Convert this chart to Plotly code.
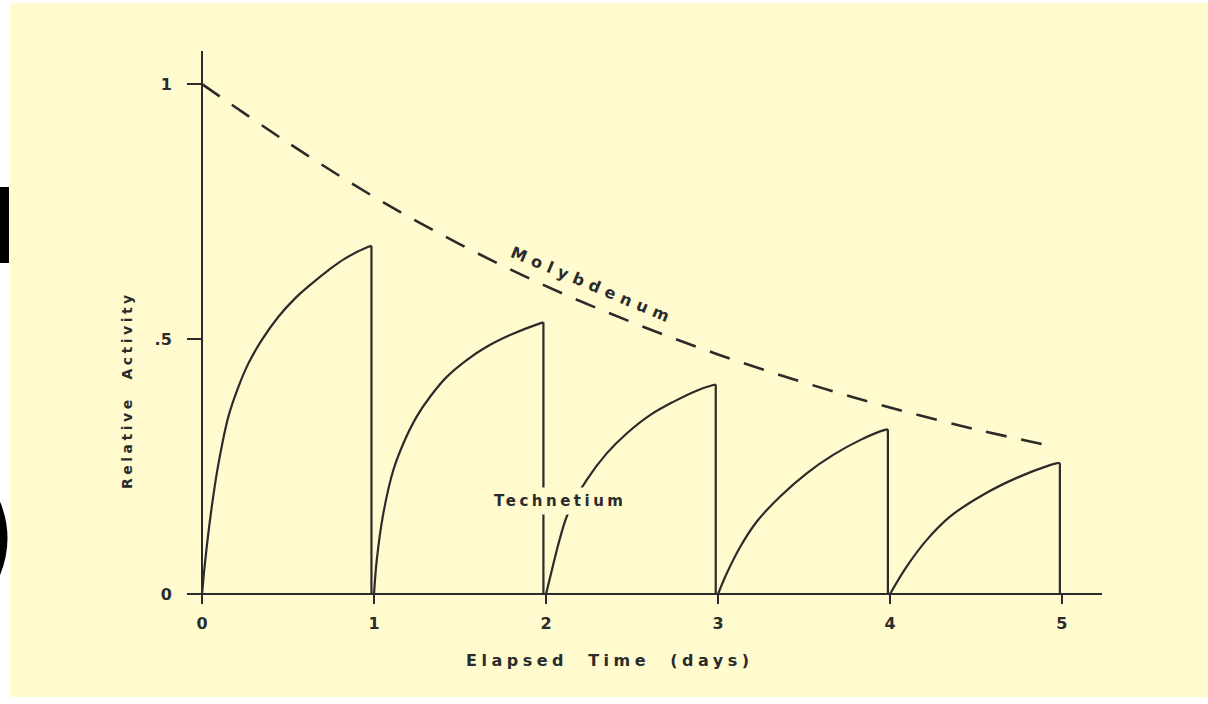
import plotly.graph_objects as go

# ---------------- data ----------------
# Molybdenum (parent) relative activity, dashed curve
mo_t = [0.0, 0.5, 1.0, 1.5, 2.0, 2.5, 3.0, 3.5, 4.0, 4.5, 4.96]
mo_v = [1.0, 0.885, 0.779, 0.686, 0.604, 0.533, 0.470, 0.415, 0.366, 0.323, 0.289]

# Technetium (daughter) growth after each daily elution
day1_t = [0.0, 0.017, 0.056, 0.095, 0.153, 0.211, 0.269, 0.347, 0.444, 0.541, 0.638, 0.734, 0.831, 0.967, 0.985]
day1_v = [0.0, 0.061, 0.170, 0.255, 0.348, 0.406, 0.452, 0.498, 0.544, 0.580, 0.609, 0.635, 0.658, 0.681, 0.683]

day2_t = [1.0, 1.016, 1.054, 1.112, 1.170, 1.248, 1.326, 1.423, 1.539, 1.655, 1.791, 1.965, 1.985]
day2_v = [0.0, 0.067, 0.158, 0.243, 0.295, 0.348, 0.387, 0.426, 0.459, 0.485, 0.508, 0.531, 0.533]

day3_t = [2.0, 2.040, 2.080, 2.130, 2.237, 2.353, 2.469, 2.605, 2.740, 2.876, 2.973, 2.987]
day3_v = [0.0, 0.055, 0.108, 0.160, 0.224, 0.276, 0.315, 0.351, 0.377, 0.399, 0.410, 0.411]

day4_t = [3.0, 3.050, 3.128, 3.225, 3.360, 3.516, 3.670, 3.826, 3.971, 3.988]
day4_v = [0.0, 0.040, 0.092, 0.142, 0.191, 0.237, 0.273, 0.302, 0.322, 0.323]

day5_t = [4.0, 4.097, 4.213, 4.349, 4.542, 4.737, 4.930, 4.973, 4.988]
day5_v = [0.0, 0.054, 0.106, 0.152, 0.195, 0.228, 0.253, 0.257, 0.257]

x_tick_vals = [0, 1, 2, 3, 4, 5]
x_tick_text = ["0", "1", "2", "3", "4", "5"]
y_tick_vals = [0, 0.5, 1]
y_tick_text = ["0", ".5", "1"]

x_title = "Elapsed  Time  (days)"
y_title = "Relative  Activity"
mo_label = "Molybdenum"
tc_label = "Technetium"

# ---------------- styling ----------------
W, H = 1208, 704
ML, MR, MT, MB = 190, 106, 51, 100
PW = W - ML - MR
PH = H - MT - MB
X_RANGE = [-0.07, 5.233]
Y_RANGE = [-0.0193, 1.065]
BG = "#FFFBCF"
INK = "#2b2b2b"
FONT = "DejaVu Sans"


def pxx(x):
    return (x - ML) / PW


def pxy(y):
    return (H - MB - y) / PH


fig = go.Figure()

fig.add_trace(go.Scatter(
    x=mo_t, y=mo_v, mode="lines", line=dict(color=INK, width=2.6, dash="21px,15px", shape="spline"),
    hoverinfo="skip", showlegend=False))

for t, v in [(day1_t, day1_v), (day2_t, day2_v), (day3_t, day3_v), (day4_t, day4_v), (day5_t, day5_v)]:
    fig.add_trace(go.Scatter(
        x=t, y=v, mode="lines", line=dict(color=INK, width=2.2, shape="spline", smoothing=1.0),
        hoverinfo="skip", showlegend=False))
    fig.add_trace(go.Scatter(
        x=[t[-1], t[-1]], y=[v[-1], 0], mode="lines", line=dict(color=INK, width=2.2),
        hoverinfo="skip", showlegend=False))

x_pos = (0 - Y_RANGE[0]) / (Y_RANGE[1] - Y_RANGE[0])
y_pos = (0 - X_RANGE[0]) / (X_RANGE[1] - X_RANGE[0])

tick_font = dict(size=16, color=INK, family=FONT, weight="bold")

fig.update_layout(
    width=W, height=H,
    margin=dict(l=ML, r=MR, t=MT, b=MB, pad=0),
    paper_bgcolor=BG, plot_bgcolor=BG,
    showlegend=False,
    font=dict(family=FONT, color=INK, size=16),
    xaxis=dict(range=X_RANGE, anchor="free", position=x_pos, showline=True, linecolor=INK, linewidth=2,
               ticks="outside", ticklen=9, tickwidth=2, tickcolor=INK,
               tickvals=x_tick_vals, ticktext=x_tick_text, ticklabelstandoff=6,
               showgrid=False, zeroline=False, tickfont=tick_font),
    yaxis=dict(range=Y_RANGE, anchor="free", position=y_pos, showline=True, linecolor=INK, linewidth=2,
               ticks="outside", ticklen=14, tickwidth=2, tickcolor=INK,
               tickvals=y_tick_vals, ticktext=y_tick_text, ticklabelstandoff=12,
               showgrid=False, zeroline=False, tickfont=tick_font),
)

annos = [
    dict(text='<span style="letter-spacing:4.5px"><b>' + x_title + '</b></span>',
         x=pxx(610), y=pxy(660), font=dict(size=16, color=INK, family=FONT), textangle=0),
    dict(text='<span style="letter-spacing:3.5px"><b>' + y_title + '</b></span>',
         x=pxx(127), y=pxy(390), font=dict(size=14, color=INK, family=FONT), textangle=-90),
    dict(text='<span style="letter-spacing:6px"><b>' + mo_label + '</b></span>',
         x=pxx(593), y=pxy(285), font=dict(size=16, color=INK, family=FONT), textangle=22.8),
    dict(text='<span style="letter-spacing:3.5px"><b>' + tc_label + '</b></span>',
         x=pxx(560), y=pxy(501), font=dict(size=15, color=INK, family=FONT), textangle=0,
         bgcolor=BG, borderpad=4),
]
for a in annos:
    fig.add_annotation(xref="paper", yref="paper", showarrow=False, xanchor="center", yanchor="middle", **a)

# white scan border and cropped black glyph fragments at the left edge
shapes = [
    dict(type="rect", x0=pxx(-5), x1=pxx(10), y0=pxy(H + 5), y1=pxy(-5), fillcolor="white", line_width=0),
    dict(type="rect", x0=pxx(-5), x1=pxx(W + 5), y0=pxy(3), y1=pxy(-5), fillcolor="white", line_width=0),
    dict(type="rect", x0=pxx(-5), x1=pxx(W + 5), y0=pxy(H + 5), y1=pxy(697), fillcolor="white", line_width=0),
    dict(type="rect", x0=pxx(-5), x1=pxx(9), y0=pxy(263), y1=pxy(187), fillcolor="black", line_width=0),
]
p = "M {:.5f},{:.5f} Q {:.5f},{:.5f} {:.5f},{:.5f} Z".format(
    pxx(-2), pxy(497), pxx(17), pxy(538), pxx(-2), pxy(580))
shapes.append(dict(type="path", path=p, fillcolor="black", line_width=0))
for s in shapes:
    fig.add_shape(xref="paper", yref="paper", layer="above", **s)

fig.write_html("out.html", config={"displayModeBar": False},
               post_script="document.body.style.margin='0';")
